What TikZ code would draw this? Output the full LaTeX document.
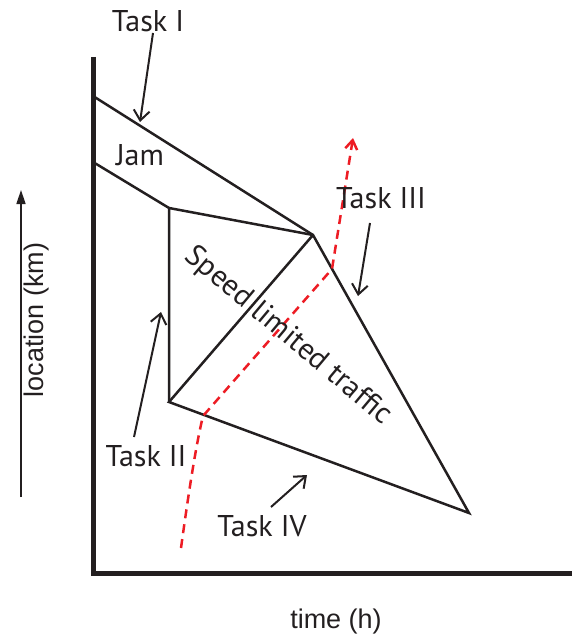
\documentclass[tikz,border=0pt]{standalone}
\usepackage{fontspec}
\setmainfont{PT Sans}
\newfontfamily\axisfont{Liberation Sans}
\usetikzlibrary{arrows.meta}
\definecolor{ink}{RGB}{35,31,32}
\definecolor{trajred}{RGB}{237,28,36}
\begin{document}
\begin{tikzpicture}[x=1pt,y=-1pt,
  edge/.style={ink, line width=2.5pt, line join=miter},
  axisline/.style={ink, line width=5pt, line join=miter},
  pointer/.style={ink, line width=2pt, -{Straight Barb[length=10pt,width=16pt]}},
  tasklabel/.style={font=\fontsize{30}{36}\selectfont, text=ink, inner sep=0pt},
  axislabel/.style={font=\axisfont\fontsize{27}{32}\selectfont, text=ink, inner sep=0pt},
  traj/.style={trajred, line width=2.5pt, dash pattern=on 9pt off 6pt, -{Straight Barb[length=9pt,width=12pt]}}
]
\useasboundingbox (0,0) rectangle (572,639);
% axes
\coordinate (Ytop) at (93.5,57);
\coordinate (O) at (93.5,573.5);
\coordinate (Xend) at (572,573.5);
\draw[axisline] (Ytop) -- (O) -- (Xend);
% vertices
\coordinate (A) at (93,96);
\coordinate (B) at (93,162);
\coordinate (C) at (169,208);
\coordinate (D) at (169,402);
\coordinate (P) at (313,235);
\coordinate (E) at (469,513);
\draw[edge] (A) -- (P);
\draw[edge] (B) -- (C) -- (D);
\draw[edge] (C) -- (P) -- (E) -- (D) -- (P);
% red trajectory
\coordinate (r0) at (181,548);
\coordinate (r1) at (203,416);
\coordinate (r2) at (332,269);
\coordinate (r3) at (353,138);
\draw[traj] (r0) .. controls (189,490) and (196,445) .. (r1) -- (r2) -- (r3);
% labels
\node[tasklabel] (t1) at (148,21) {Task I};
\node[tasklabel] (jam) at (140,155) {Jam};
\node[tasklabel] (t3) at (381,198) {Task III};
\node[tasklabel] (t2) at (146,456) {Task II};
\node[tasklabel] (t4) at (262,526) {Task IV};
\node[tasklabel, rotate=-40] (slt) at (288,336) {Speed limited traffic};
% pointers
\coordinate (p1a) at (153,33); \coordinate (p1b) at (140,122);
\coordinate (p3a) at (370,223); \coordinate (p3b) at (358,296);
\coordinate (p2a) at (134,437); \coordinate (p2b) at (161,312);
\coordinate (p4a) at (271,507); \coordinate (p4b) at (307,475);
\draw[pointer] (p1a) -- (p1b);
\draw[pointer] (p3a) -- (p3b);
\draw[pointer] (p2a) -- (p2b);
\draw[pointer] (p4a) -- (p4b);
% axis labels
\coordinate (la) at (21,497); \coordinate (lb) at (21,190);
\draw[ink, line width=1.5pt, -{Triangle[length=14pt,width=9pt]}] (la) -- (lb);
\node[axislabel, rotate=90] (loc) at (37,320) {location (km)};
\node[axislabel] (time) at (336,622) {time (h)};
\end{tikzpicture}
\end{document}
